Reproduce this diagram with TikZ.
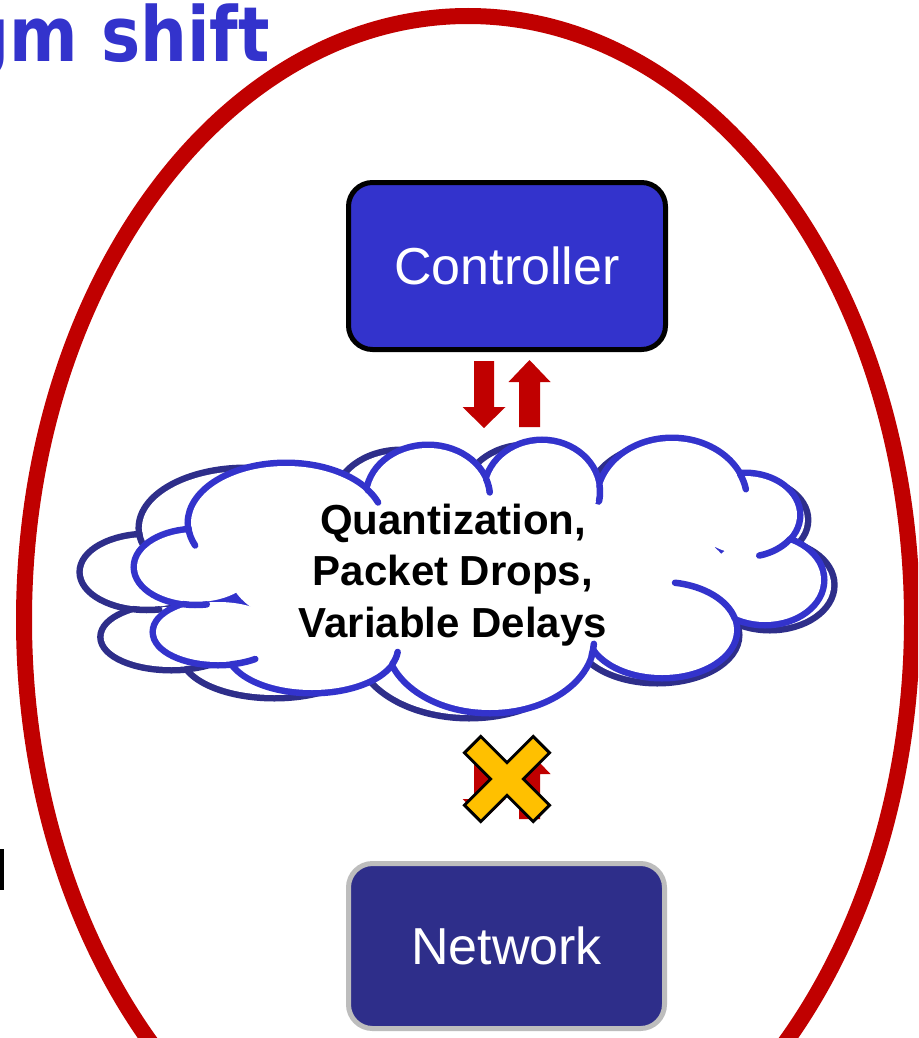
\documentclass[tikz,border=0pt]{standalone}
\usepackage{fontspec}
\usetikzlibrary{calc}
\setmainfont{Liberation Sans}
\newfontfamily\titlefont{DejaVu Sans}

\definecolor{ringred}{HTML}{C00000}
\definecolor{ctrlblue}{HTML}{3333CC}
\definecolor{netblue}{HTML}{2E2E8A}
\definecolor{netedge}{HTML}{BDBDBD}
\definecolor{crossyellow}{HTML}{FFC000}

% bumps of the cloud: centre x / centre y / x radius / y radius
\def\bumplist{196/567/59/35, 218/632/62/30, 312/648/83/42, 490/640/101/70,
  662/630/72/45, 765/580/56/42, 745/515/52/39, 672/500/72/59,
  542/492/55/49, 428/497/59/49, 286/523/95/57}
% inner arcs where a bump runs on past its neighbour:
% centre x / centre y / x radius / y radius / start angle / end angle
\def\hooklist{286/523/98/60/176/158, 286/523/98/60/-34/-20,
  428/497/62/52/-20/-5, 542/492/58/52/-7/10, 672/500/75/62/-25/-10,
  745/515/55/42/35/75, 662/630/75/48/-14/-80, 490/640/104/73/12/3,
  312/648/86/45/21/5, 218/632/65/33/78/55, 196/567/62/38/102/80}

\newcommand\cloudlayer[1]{%
  \foreach \cx/\cy/\rx/\ry in \bumplist
    {\draw[#1, line width=13pt] (\cx,\cy) ellipse [x radius=\rx, y radius=\ry];}
  \foreach \cx/\cy/\rx/\ry in \bumplist
    {\fill[white] (\cx,\cy) ellipse [x radius=\rx, y radius=\ry];}
  \fill[white] (480,575) ellipse [x radius=250, y radius=80];
  \foreach \cx/\cy/\rx/\ry/\ta/\tb in \hooklist
    {\draw[#1, line width=6.5pt, line cap=round]
      (\cx,\cy) ++({\rx*cos(\ta)},{\ry*sin(\ta)})
      arc[start angle=\ta, end angle=\tb, x radius=\rx, y radius=\ry];}
}

\tikzset{
  blockbox/.style={rounded corners=24pt, minimum width=317pt, minimum height=167pt,
    line width=5pt, text=white, font=\fontsize{52}{60}\selectfont, inner sep=0pt},
  redarrow/.style={fill=ringred, draw=none},
  pics/downarrow/.style={code={
    \path[redarrow] (-10,0) -- (10,0) -- (10,46) -- (21.5,46) -- (0,67)
      -- (-21.5,46) -- (-10,46) -- cycle;}},
  pics/uparrow/.style={code={
    \path[redarrow] (-10.5,0) -- (10.5,0) -- (10.5,-45) -- (21,-45) -- (0,-67)
      -- (-21,-45) -- (-10.5,-45) -- cycle;}},
}

\begin{document}
\begin{tikzpicture}[x=1pt, y=-1pt]
\useasboundingbox (0,0) rectangle (918,1038);
\clip (0,0) rectangle (918,1038);
\fill[white] (0,0) rectangle (918,1038);

% outer ring
\draw[ringred, line width=16pt] (468,620) ellipse [x radius=444, y radius=604];

% heading
\node[anchor=base east, inner sep=0pt, outer sep=0pt, text=ctrlblue,
  font=\titlefont\bfseries\fontsize{76}{80}\selectfont] (title) at (270,62)
  {\scalebox{0.866}[1]{gm shift}};

% cut-off letter at the left margin
\fill[black] (0,849) rectangle (4,890);

% arrows between controller and cloud
\pic at (484,361) {downarrow};
\pic at (529.5,427) {uparrow};

% clouds
\begin{scope}[shift={(-67,5)}, xscale=1.094]
  \cloudlayer{netblue}
\end{scope}
\cloudlayer{ctrlblue}

\node[align=center, font=\bfseries\fontsize{42}{51.5}\selectfont, inner sep=0pt]
  (delays) at (453,575) {Quantization,\\Packet Drops,\\Variable Delays};

% blocked arrows between cloud and network
\pic at (484,753) {downarrow};
\pic at (529.5,819) {uparrow};
\coordinate (cross) at (507,779);
\draw[black, line width=26pt] ($(cross)+(-35.4,-35.4)$) -- ($(cross)+(35.4,35.4)$);
\draw[black, line width=26pt] ($(cross)+(35.4,-35.4)$) -- ($(cross)+(-35.4,35.4)$);
\draw[crossyellow, line width=20pt] ($(cross)+(-33.2,-33.2)$) -- ($(cross)+(33.2,33.2)$);
\draw[crossyellow, line width=20pt] ($(cross)+(33.2,-33.2)$) -- ($(cross)+(-33.2,33.2)$);

% boxes
\node[blockbox, fill=ctrlblue, draw=black] (ctrl) at (507,266) {Controller};
\node[blockbox, fill=netblue, draw=netedge, minimum width=316pt, minimum height=165pt]
  (net) at (506.5,946) {Network};
\end{tikzpicture}
\end{document}
